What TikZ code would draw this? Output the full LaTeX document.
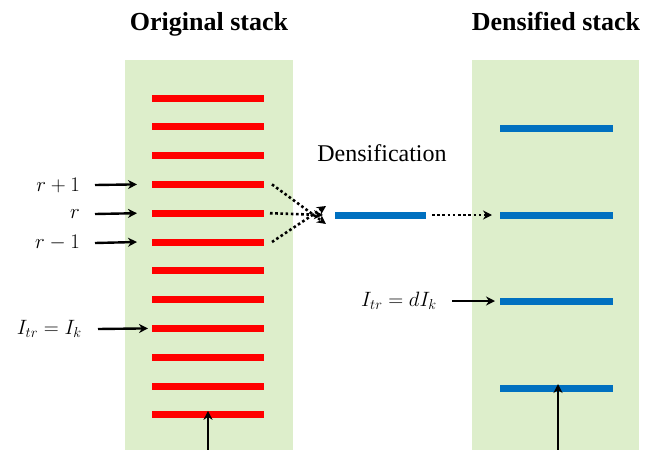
\documentclass[tikz,border=0pt]{standalone}
\usepackage{fontspec}
\setmainfont{Liberation Serif}
\usetikzlibrary{arrows.meta}
\definecolor{stackgreen}{HTML}{DDEECB}
\definecolor{barred}{HTML}{FF0000}
\definecolor{barblue}{HTML}{0070C0}
\tikzset{
  redbar/.style={barred, line width=7pt},
  bluebar/.style={barblue, line width=7pt},
  arr/.style={-{Stealth[length=9pt,width=9pt]}, line width=2.4pt},
  dotarr/.style={-{Stealth[length=9pt,width=9pt]}, line width=2.6pt, dash pattern=on 2.6pt off 2.6pt},
  lab/.style={font=\fontsize{21}{25}\selectfont, inner sep=0pt}
}
\begin{document}
\begin{tikzpicture}[x=1pt,y=-1pt]
            \useasboundingbox (0,0) rectangle (646,450);
            % backgrounds
            \fill[stackgreen] (125,60) rectangle (293,450);
            \fill[stackgreen] (472,60) rectangle (639,450);
            \node[font=\fontsize{26}{30}\selectfont\bfseries, anchor=base] (torig) at (209,30) {Original stack};
            \node[font=\fontsize{26}{30}\selectfont\bfseries, anchor=base] (tdens) at (556,30) {Densified stack};
            % original stack
            \foreach \i in {0,...,11}
              \draw[redbar] (152,{98+28.8*\i}) coordinate (o\i) -- (264,{98+28.8*\i}) coordinate (e\i);
            \node[lab, anchor=east] (rp) at (80,185) {$r+1$};
            \node[lab, anchor=east] (r) at (80,214) {$r$};
            \node[lab, anchor=east] (rm) at (80,243) {$r-1$};
            \node[lab, anchor=east] (ik) at (82,329) {$I_{tr}=I_k$};
            \draw[arr] ([xshift=15pt]rp.east) -- ([xshift=-15pt]o3);
            \draw[arr] ([xshift=15pt]r.east -| rp.east) -- ([xshift=-15pt]o4);
            \draw[arr] ([xshift=15pt]rm.east) -- ([xshift=-15pt]o5);
            \draw[arr] ([xshift=16pt]ik.east) -- ([xshift=-4pt]o8);
            \coordinate (bl) at (208,450);
            \draw[arr] (bl) -- ([yshift=4pt]bl |- o11);
            % densification
            \node[font=\fontsize{24}{28}\selectfont] (dens) at (382,153) {Densification};
            \draw[bluebar] (335,215) coordinate (m0) -- (426,215) coordinate (m1);
            \draw[dotarr] ([xshift=8pt]e3) -- ([xshift=-9pt,yshift=-9pt]m0);
            \draw[dotarr] ([xshift=6pt]e4) -- ([xshift=-12pt]m0);
            \draw[dotarr] ([xshift=8pt]e5) -- ([xshift=-9pt,yshift=9pt]m0);
            % densified stack
            \draw[bluebar] (500,128) coordinate (d0) -- (613,128) coordinate (f0);
            \draw[bluebar] (500,215) coordinate (d1) -- (613,215) coordinate (f1);
            \draw[bluebar] (500,301) coordinate (d2) -- (613,301) coordinate (f2);
            \draw[bluebar] (500,388) coordinate (d3) -- (613,388) coordinate (f3);
            \draw[dotarr] ([xshift=6pt]m1) -- ([xshift=-8pt]d1);
            \node[lab, anchor=east] (dik) at (437,301) {$I_{tr}=dI_k$};
            \draw[arr] ([xshift=15pt]dik.east) -- ([xshift=-5pt]d2);
            \coordinate (br) at (558,450);
            \draw[arr] (br) -- ([yshift=4pt]br |- d3);
        \end{tikzpicture}
\end{document}
